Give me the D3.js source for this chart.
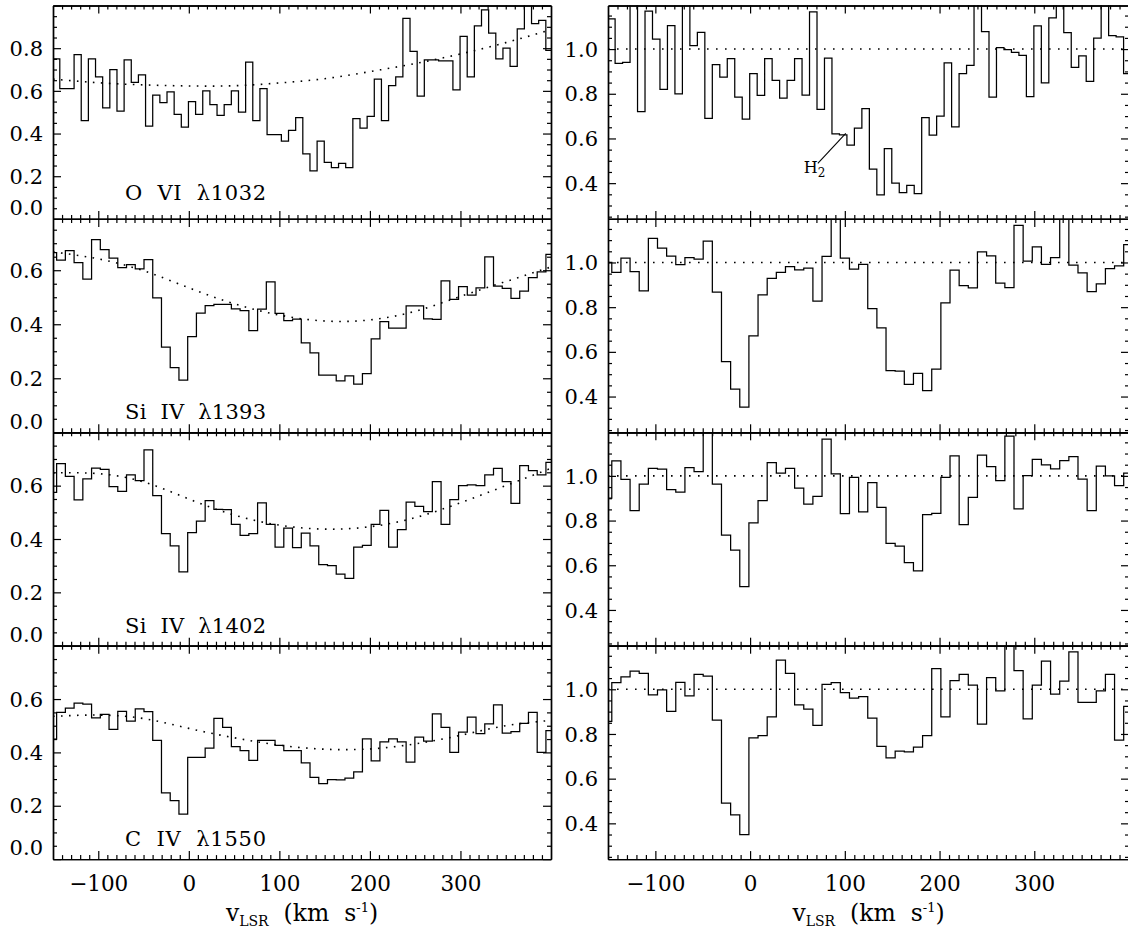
<!DOCTYPE html>
<html>
<head>
<meta charset="utf-8">
<script src="https://cdn.jsdelivr.net/npm/d3@7"></script>
<style>
  body { margin: 0; background: #fff; }
  text { font-family: "DejaVu Serif", "Liberation Serif", serif; fill: #000; }
</style>
</head>
<body>
<svg id="fig" width="1128" height="934"></svg>
<script>
// ---- velocity grids (km/s): [first full-bin lower edge, bin width] ----
const gridOVI = [-142.5, 7.894];
const gridSi1393 = [-146, 9.65];
const gridSi1402 = [-146, 9.65];
const gridCIV = [-146, 9.65];

// ---- apparent flux (left column), one value per bin ----
const fluxOVI = [0.75, 0.61, 0.61, 0.77, 0.46, 0.75, 0.665, 0.52, 0.70, 0.505, 0.745, 0.64, 0.675, 0.435,
  0.58, 0.545, 0.595, 0.49, 0.43, 0.55, 0.49, 0.60, 0.535, 0.485, 0.535, 0.60, 0.50, 0.735, 0.46, 0.61,
  0.395, 0.395, 0.365, 0.415, 0.475, 0.305, 0.225, 0.365, 0.265, 0.24, 0.26, 0.24, 0.47, 0.425, 0.48,
  0.655, 0.46, 0.625, 0.665, 0.94, 0.785, 0.575, 0.745, 0.745, 0.74, 0.74, 0.605, 0.855, 0.665, 0.905,
  0.98, 0.87, 0.75, 0.80, 0.715, 0.89, 1.05, 0.915, 0.93, 0.79];
const fluxSi1393 = [0.665, 0.637, 0.673, 0.628, 0.567, 0.713, 0.676, 0.645, 0.61, 0.621, 0.605, 0.639,
  0.498, 0.315, 0.239, 0.193, 0.354, 0.441, 0.469, 0.474, 0.474, 0.457, 0.45, 0.376, 0.456, 0.557, 0.44,
  0.413, 0.419, 0.331, 0.294, 0.212, 0.212, 0.19, 0.209, 0.178, 0.217, 0.346, 0.41, 0.386, 0.386, 0.468,
  0.468, 0.42, 0.418, 0.561, 0.492, 0.539, 0.508, 0.535, 0.649, 0.541, 0.533, 0.496, 0.523, 0.573, 0.594,
  0.659];
const fluxSi1402 = [0.575, 0.683, 0.635, 0.547, 0.625, 0.666, 0.661, 0.596, 0.579, 0.64, 0.619, 0.734,
  0.563, 0.42, 0.374, 0.277, 0.424, 0.467, 0.544, 0.511, 0.51, 0.455, 0.414, 0.42, 0.535, 0.455, 0.37,
  0.441, 0.368, 0.422, 0.374, 0.304, 0.30, 0.268, 0.252, 0.37, 0.376, 0.455, 0.507, 0.37, 0.435, 0.538,
  0.522, 0.503, 0.615, 0.455, 0.548, 0.60, 0.603, 0.60, 0.64, 0.665, 0.615, 0.534, 0.675, 0.656, 0.64,
  0.687];
const fluxCIV = [0.45, 0.55, 0.566, 0.585, 0.581, 0.529, 0.543, 0.486, 0.554, 0.517, 0.563, 0.553, 0.445,
  0.248, 0.219, 0.169, 0.381, 0.381, 0.416, 0.528, 0.494, 0.422, 0.407, 0.37, 0.445, 0.445, 0.426, 0.407,
  0.407, 0.361, 0.306, 0.283, 0.298, 0.297, 0.304, 0.327, 0.451, 0.368, 0.439, 0.451, 0.439, 0.364, 0.457,
  0.442, 0.544, 0.494, 0.40, 0.476, 0.532, 0.47, 0.507, 0.578, 0.472, 0.478, 0.509, 0.55, 0.40, 0.482];

// ---- continuum-normalised flux (right column) ----
const normOVI = [1.135, 0.936, 0.94, 1.25, 0.72, 1.17, 1.045, 0.82, 1.105, 0.80, 1.25, 1.015, 1.075, 0.69,
  0.93, 0.875, 0.957, 0.785, 0.687, 0.89, 0.793, 0.957, 0.86, 0.78, 0.86, 0.957, 0.794, 1.167, 0.73, 0.96,
  0.62, 0.616, 0.57, 0.646, 0.733, 0.463, 0.348, 0.554, 0.40, 0.358, 0.39, 0.353, 0.693, 0.615, 0.70,
  0.938, 0.652, 0.89, 0.927, 1.30, 1.078, 0.785, 1.007, 0.997, 0.985, 0.972, 0.787, 1.104, 0.849, 1.14,
  1.22, 1.074, 0.918, 0.97, 0.856, 1.049, 1.30, 1.06, 1.055, 0.89];
const normSi1393 = [1.0, 0.956, 1.019, 0.959, 0.873, 1.108, 1.064, 1.028, 0.99, 1.022, 1.015, 1.095, 0.867,
  0.556, 0.433, 0.353, 0.671, 0.855, 0.929, 0.956, 0.981, 0.967, 0.975, 0.827, 1.027, 1.24, 1.019, 0.97,
  0.991, 0.793, 0.707, 0.516, 0.514, 0.455, 0.504, 0.427, 0.523, 0.819, 0.966, 0.896, 0.886, 1.047, 1.03,
  0.908, 0.887, 1.166, 1.006, 1.07, 0.991, 1.022, 1.22, 0.988, 0.953, 0.87, 0.904, 0.973, 0.985, 1.08];
const normSi1402 = [0.90, 1.067, 0.984, 0.844, 0.963, 1.034, 1.03, 0.938, 0.927, 1.037, 1.019, 1.22, 0.963,
  0.735, 0.668, 0.504, 0.79, 0.889, 1.059, 1.012, 1.034, 0.945, 0.874, 0.908, 1.164, 1.009, 0.831, 0.993,
  0.839, 0.97, 0.859, 0.698, 0.686, 0.612, 0.575, 0.827, 0.832, 0.993, 1.089, 0.782, 0.904, 1.093, 1.041,
  0.979, 1.178, 0.852, 1.001, 1.074, 1.049, 1.031, 1.068, 1.086, 0.985, 0.844, 1.044, 1.0, 0.956, 1.012];
const normCIV = [0.856, 1.03, 1.055, 1.081, 1.071, 0.975, 0.997, 0.901, 1.031, 0.97, 1.067, 1.059, 0.862,
  0.49, 0.438, 0.35, 0.782, 0.793, 0.877, 1.13, 1.071, 0.93, 0.911, 0.839, 1.022, 1.03, 0.985, 0.96, 0.967,
  0.871, 0.744, 0.693, 0.723, 0.72, 0.741, 0.793, 1.092, 0.877, 1.039, 1.067, 1.019, 0.844, 1.052, 0.993,
  1.24, 1.084, 0.868, 1.019, 1.126, 0.978, 1.037, 1.167, 0.941, 0.941, 0.993, 1.067, 0.772, 0.923];

// ---- fitted continua, sampled every 50 km/s ----
const contVel = [-150, -100, -50, 0, 50, 100, 150, 200, 250, 300, 350, 400];
const contOVI = [0.655, 0.638, 0.628, 0.623, 0.624, 0.637, 0.657, 0.69, 0.728, 0.773, 0.826, 0.887];
const contSi1393 = [0.668, 0.642, 0.598, 0.535, 0.476, 0.434, 0.412, 0.416, 0.448, 0.503, 0.558, 0.612];
const contSi1402 = [0.648, 0.645, 0.614, 0.55, 0.49, 0.452, 0.437, 0.446, 0.48, 0.536, 0.6, 0.665];
const contCIV = [0.535, 0.54, 0.527, 0.49, 0.455, 0.427, 0.412, 0.413, 0.432, 0.464, 0.5, 0.52];

// ---- labels and axis ranges ----
const lineLabels = ["O  VI  λ1032", "Si  IV  λ1393", "Si  IV  λ1402", "C  IV  λ1550"];
const leftYMax = [1.0, 0.79, 0.8, 0.8];
const rightYRange = [0.24, 1.195];
const velRange = [-150, 400];
const velMajor = [-100, 0, 100, 200, 300];

const rows = [
  { grid: gridOVI, flux: fluxOVI, norm: normOVI, cont: contOVI },
  { grid: gridSi1393, flux: fluxSi1393, norm: normSi1393, cont: contSi1393 },
  { grid: gridSi1402, flux: fluxSi1402, norm: normSi1402, cont: contSi1402 },
  { grid: gridCIV, flux: fluxCIV, norm: normCIV, cont: contCIV }
];

// ---- layout ----
const svg = d3.select("#fig");
const top0 = 5.5, panelH = 213.4;
const colL = [53, 551], colR = [608, 1129];
const xL = d3.scaleLinear().domain(velRange).range(colL);
const xR = d3.scaleLinear().domain(velRange).range(colR);

const minorVel = d3.range(-140, 400, 10).filter(v => !velMajor.includes(v));

function binPoints(grid, vals) {
  const [v0, dv] = grid;
  const pts = vals.map((f, i) => [v0 + (i - 1) * dv, f]);
  pts.push([v0 + (vals.length - 1) * dv, vals[vals.length - 1]]);
  return pts;
}

let clipId = 0;
function drawPanel(x, y, rowIdx, opts) {
  const [x0, x1] = x.range();
  const [yb, yt] = y.range();
  const g = svg.append("g");
  const id = "clip" + (clipId++);
  svg.append("clipPath").attr("id", id)
    .append("rect").attr("x", x0).attr("y", yt).attr("width", x1 - x0).attr("height", yb - yt);

  const plot = g.append("g").attr("clip-path", `url(#${id})`);

  // continuum / unit level
  const dotted = d3.line().x(d => x(d[0])).y(d => y(d[1])).curve(d3.curveNatural);
  plot.append("path")
    .attr("d", dotted(opts.cont))
    .attr("fill", "none").attr("stroke", "#000").attr("stroke-width", 1.6)
    .attr("stroke-dasharray", opts.dash);

  // binned spectrum
  const step = d3.line().x(d => x(d[0])).y(d => y(d[1])).curve(d3.curveStepAfter);
  plot.append("path")
    .attr("d", step(opts.bins))
    .attr("fill", "none").attr("stroke", "#000").attr("stroke-width", 1.25)
    .attr("stroke-linejoin", "miter");

  // frame with inward ticks on all four sides
  const axisStyle = sel => {
    sel.selectAll("path.domain").attr("stroke", "#000").attr("stroke-width", 1.4);
    sel.selectAll(".tick line").attr("stroke", "#000").attr("stroke-width", 1.2);
  };
  const yMinor = d3.range(Math.ceil(y.domain()[0] / 0.05 - 1e-6) * 0.05, y.domain()[1] + 1e-6, 0.05)
    .map(v => +v.toFixed(2))
    .filter(v => v > y.domain()[0] + 1e-6 && v < y.domain()[1] - 1e-6 && Math.abs(v / 0.2 - Math.round(v / 0.2)) > 1e-6);
  const yMajor = d3.range(0, 1.3, 0.2).map(v => +v.toFixed(1))
    .filter(v => v >= y.domain()[0] - 1e-6 && v <= y.domain()[1] + 1e-6);

  const left = g.append("g").attr("transform", `translate(${x0},0)`)
    .call(d3.axisLeft(y).tickValues(yMajor).tickSize(-8).tickSizeOuter(0).tickPadding(10)
      .tickFormat(d3.format(".1f")));
  left.call(axisStyle);
  left.selectAll(".tick text").attr("font-size", 21)
    .style("display", d => (d >= y.domain()[1] - 0.1 - 1e-6 ? "none" : null))
    .attr("dy", d => (Math.abs(d) < 1e-6 ? "-0.2em" : "0.34em"));
  g.append("g").attr("transform", `translate(${x0},0)`)
    .call(d3.axisLeft(y).tickValues(yMinor).tickSize(-4).tickSizeOuter(0).tickFormat(""))
    .call(axisStyle);
  g.append("g").attr("transform", `translate(${x1},0)`)
    .call(d3.axisRight(y).tickValues(yMajor).tickSize(-8).tickSizeOuter(0).tickFormat(""))
    .call(axisStyle);
  g.append("g").attr("transform", `translate(${x1},0)`)
    .call(d3.axisRight(y).tickValues(yMinor).tickSize(-4).tickSizeOuter(0).tickFormat(""))
    .call(axisStyle);

  const bottom = g.append("g").attr("transform", `translate(0,${yb})`)
    .call(d3.axisBottom(x).tickValues(velMajor).tickSize(-8).tickSizeOuter(0).tickPadding(17)
      .tickFormat(d => (d < 0 ? "\u2212" + Math.abs(d) : d)));
  bottom.call(axisStyle);
  bottom.selectAll(".tick text").attr("font-size", 21.5)
    .style("display", opts.xLabels ? null : "none");
  g.append("g").attr("transform", `translate(0,${yb})`)
    .call(d3.axisBottom(x).tickValues(minorVel).tickSize(-4).tickSizeOuter(0).tickFormat(""))
    .call(axisStyle);
  g.append("g").attr("transform", `translate(0,${yt})`)
    .call(d3.axisTop(x).tickValues(velMajor).tickSize(-8).tickSizeOuter(0).tickFormat(""))
    .call(axisStyle);
  g.append("g").attr("transform", `translate(0,${yt})`)
    .call(d3.axisTop(x).tickValues(minorVel).tickSize(-4).tickSizeOuter(0).tickFormat(""))
    .call(axisStyle);
  return g;
}

rows.forEach((r, i) => {
  const yt = top0 + i * panelH, yb = yt + panelH;
  const yLeft = d3.scaleLinear().domain([0, leftYMax[i]]).range([yb, yt]);
  const yRight = d3.scaleLinear().domain(rightYRange).range([yb, yt]);
  const last = i === rows.length - 1;

  const gl = drawPanel(xL, yLeft, i, {
    bins: binPoints(r.grid, r.flux),
    cont: contVel.map((v, k) => [v, r.cont[k]]),
    dash: "1.6 6.4",
    xLabels: last
  });
  gl.append("text")
    .attr("x", 125).attr("y", yb - (i === 0 ? 19 : 13))
    .attr("font-size", 21)
    .style("white-space", "pre")
    .attr("textLength", 141).attr("lengthAdjust", "spacing")
    .text(lineLabels[i]);

  drawPanel(xR, yRight, i, {
    bins: binPoints(r.grid, r.norm),
    cont: velRange.map(v => [v, 1.0]),
    dash: "1.6 7.4",
    xLabels: last
  });

  if (i === 0) {
    // H2 contamination marker
    const tip = [101, 0.623], tail = [71.5, 0.489];
    svg.append("line")
      .attr("x1", xR(tail[0])).attr("y1", yRight(tail[1]))
      .attr("x2", xR(tip[0])).attr("y2", yRight(tip[1]))
      .attr("stroke", "#000").attr("stroke-width", 1.1);
    const h = svg.append("text").attr("x", xR(tail[0]) - 14).attr("y", yRight(tail[1]) + 10)
      .attr("font-size", 16);
    h.append("tspan").text("H");
    h.append("tspan").attr("dy", 4).attr("font-size", 12).text("2");
  }
});

// velocity axis titles
[xL, xR].forEach(x => {
  const cx = (x.range()[0] + x.range()[1]) / 2;
  const t = svg.append("text").attr("x", cx).attr("y", 921).attr("text-anchor", "middle")
    .attr("font-size", 23.5).style("white-space", "pre");
  t.append("tspan").text("v");
  t.append("tspan").attr("dy", 5).attr("font-size", 14).text("LSR");
  t.append("tspan").attr("dy", -5).text("  (km  s");
  t.append("tspan").attr("dy", -9).attr("font-size", 13).text("-1");
  t.append("tspan").attr("dy", 9).text(")");
});
</script>
</body>
</html>
